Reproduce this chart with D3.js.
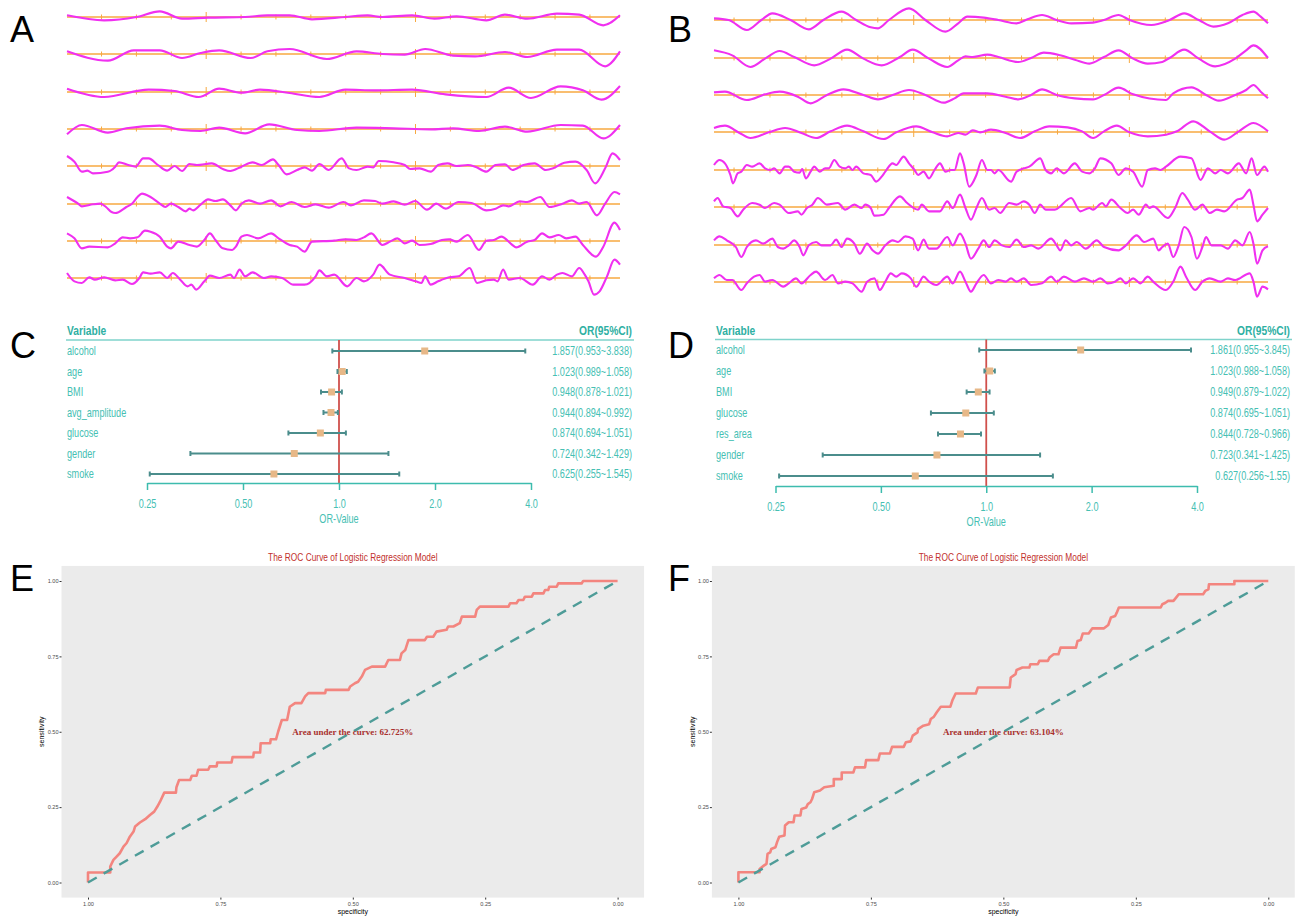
<!DOCTYPE html>
<html>
<head>
<meta charset="utf-8">
<script src="https://cdn.jsdelivr.net/npm/d3@7"></script>
<style>
  body { margin: 0; background: #fff; }
</style>
</head>
<body>
<div id="fig"></div>
<script>
// ---- signal traces: [sample, amplitude] ----
var waveA1 = [[20,5],[120,-10],[207,0],[270,17],[330,-5],[400,-2],[500,0],[560,5],[620,5],[680,-7],[770,0],[830,5],[870,0],[950,5],[1010,-5],[1070,2],[1150,-10],[1200,7],[1260,-5],[1340,10],[1400,7],[1465,-25],[1510,5]];
var waveA2 = [[20,8],[130,-20],[200,11],[270,11],[330,-12],[380,3],[430,11],[515,-12],[560,8],[620,15],[720,-15],[800,8],[870,0],[930,-2],[985,15],[1060,-5],[1120,-7],[1200,6],[1260,-9],[1340,13],[1400,13],[1470,-37],[1510,8]];
var waveA3 = [[20,10],[120,-15],[240,7],[310,3],[375,-15],[430,10],[490,-2],[540,7],[620,-3],[700,-15],[770,7],[850,5],[950,7],[1040,-7],[1150,-15],[1210,13],[1270,-18],[1350,17],[1410,5],[1460,-23],[1510,18]];
var waveA4 = [[20,-16],[60,12],[130,-11],[180,2],[270,10],[330,-3],[380,-6],[430,4],[500,-13],[565,14],[640,-3],[700,-6],[800,4],[900,2],[1000,-1],[1060,2],[1130,-6],[1200,7],[1260,-8],[1350,12],[1410,10],[1465,-28],[1510,12]];
var waveA5 = [[20,30],[40,13],[60,-17],[75,-14],[90,-22],[130,-17],[140,-12],[150,-2],[160,11],[185,3],[205,-2],[225,23],[240,23],[265,3],[290,-14],[310,0],[330,-15],[350,6],[370,3],[410,8],[440,-9],[460,-15],[490,-2],[520,11],[545,3],[575,20],[590,3],[612,-25],[640,-12],[660,-4],[680,-14],[700,6],[725,-12],[760,23],[780,-7],[800,-12],[830,-2],[845,-4],[860,15],[900,11],[930,3],[945,-9],[970,-7],[1000,-17],[1020,3],[1045,8],[1070,0],[1100,3],[1120,-2],[1150,-17],[1175,3],[1200,5],[1220,-12],[1250,3],[1280,8],[1310,-12],[1330,-7],[1360,10],[1390,13],[1420,-12],[1443,-52],[1470,-7],[1490,38],[1510,18]];
var waveA6 = [[20,21],[50,1],[60,-7],[90,-1],[110,1],[125,-9],[140,-24],[150,-27],[180,-9],[195,1],[210,21],[222,31],[245,21],[270,1],[285,-9],[300,1],[320,-9],[340,-22],[350,-14],[360,-19],[380,-2],[400,14],[420,9],[440,14],[460,-4],[475,-19],[490,1],[510,11],[540,1],[570,11],[595,-7],[625,6],[660,-9],[690,-1],[725,-11],[765,6],[785,-4],[820,11],[850,9],[870,1],[900,8],[930,-2],[958,9],[990,-17],[1015,1],[1040,-14],[1075,6],[1110,3],[1150,-19],[1175,-14],[1195,-4],[1210,-7],[1240,8],[1260,6],[1295,21],[1320,-9],[1355,1],[1380,11],[1400,1],[1420,6],[1448,-34],[1470,1],[1495,36],[1510,29]];
var waveA7 = [[20,23],[40,8],[60,-22],[80,-17],[130,-19],[150,-7],[170,11],[190,8],[210,11],[230,31],[245,28],[270,13],[290,-17],[300,-22],[320,-2],[350,-12],[370,-17],[390,3],[405,23],[420,3],[440,-22],[465,-27],[475,-17],[490,13],[505,18],[535,8],[570,23],[590,8],[620,-12],[640,-17],[660,-32],[680,-2],[740,1],[770,5],[800,3],[820,11],[840,23],[870,-12],[890,-2],[910,8],[930,-7],[950,1],[970,-12],[1000,-9],[1030,3],[1050,5],[1070,-2],[1100,18],[1130,-27],[1150,1],[1170,3],[1190,13],[1220,-12],[1230,-19],[1260,-2],[1280,3],[1300,23],[1320,11],[1345,18],[1365,8],[1390,13],[1410,-12],[1445,-47],[1465,-17],[1495,55],[1510,33]];
var waveA8 = [[20,15],[40,-10],[60,-15],[80,2],[95,-5],[120,2],[150,-7],[170,-5],[195,-18],[215,0],[225,17],[245,13],[270,17],[290,0],[305,15],[325,-5],[345,-25],[355,-20],[368,-35],[390,-10],[405,7],[430,0],[460,10],[470,0],[485,25],[500,5],[520,17],[550,0],[570,5],[600,0],[630,-20],[660,-20],[690,5],[700,23],[720,5],[740,10],[775,-25],[800,0],[820,-10],[845,10],[862,40],[890,10],[930,0],[960,-10],[975,-15],[985,5],[1000,-20],[1020,-10],[1050,2],[1075,5],[1105,30],[1125,-15],[1150,-7],[1170,-5],[1180,-10],[1195,25],[1210,-5],[1240,0],[1275,-20],[1300,5],[1320,-5],[1340,10],[1355,15],[1380,5],[1400,30],[1415,10],[1425,-10],[1440,-50],[1455,-40],[1475,5],[1495,55],[1510,40]];

var waveB1 = [[10,5],[50,0],[100,-30],[140,0],[170,20],[220,0],[270,-28],[310,0],[360,25],[400,0],[440,-22],[460,-25],[490,0],[545,35],[590,0],[645,-35],[680,-10],[705,10],[750,7],[790,0],[840,-10],[870,2],[910,15],[950,0],[990,-10],[1050,-8],[1080,0],[1120,15],[1150,0],[1210,-15],[1260,0],[1300,20],[1340,0],[1380,-20],[1420,-10],[1460,15],[1490,25],[1510,10],[1530,-10]];
var waveB2 = [[10,23],[60,8],[110,-27],[150,-2],[190,21],[230,3],[285,-22],[330,-2],[375,25],[420,-2],[470,-22],[520,3],[555,25],[600,-2],[650,-27],[680,-7],[700,5],[720,3],[760,10],[790,3],[845,-12],[880,0],[915,16],[960,8],[1000,-5],[1040,-17],[1080,3],[1120,23],[1160,-2],[1200,-17],[1240,-12],[1260,0],[1300,25],[1340,-2],[1385,-25],[1440,-2],[1470,23],[1490,38],[1530,0]];
var waveB3 = [[10,8],[40,10],[100,-15],[150,2],[190,10],[240,-5],[275,-25],[320,0],[365,17],[420,0],[460,-13],[500,0],[545,15],[590,0],[640,-23],[670,-10],[695,5],[760,5],[810,-5],[845,-13],[880,0],[910,17],[950,0],[1000,-10],[1050,-13],[1080,0],[1120,22],[1160,2],[1250,-15],[1270,5],[1320,23],[1360,0],[1395,-17],[1440,0],[1470,15],[1490,30],[1510,10],[1530,-10]];
var waveB4 = [[10,12],[40,19],[80,-3],[110,-18],[160,-1],[205,12],[250,-3],[290,-18],[330,2],[375,19],[420,2],[475,-21],[510,-1],[565,17],[610,-1],[650,-13],[680,-3],[700,-8],[720,5],[740,-1],[770,7],[810,-3],[850,-18],[890,2],[930,17],[980,14],[1020,2],[1050,-18],[1080,2],[1115,19],[1150,-1],[1200,-13],[1250,-8],[1280,2],[1325,32],[1370,2],[1410,-23],[1450,2],[1490,27],[1530,2]];
var waveB5 = [[10,15],[25,30],[40,20],[55,-15],[62,-40],[75,-10],[85,-5],[100,15],[115,10],[135,20],[150,5],[165,0],[175,5],[190,-10],[205,10],[215,10],[230,-5],[245,-8],[252,3],[262,-25],[275,-5],[285,10],[300,-5],[315,5],[325,5],[340,30],[355,10],[370,5],[380,10],[390,0],[400,10],[420,-10],[440,-15],[455,-35],[470,-20],[480,-5],[500,20],[510,15],[530,40],[545,20],[560,0],[570,-15],[585,-5],[600,-25],[615,0],[630,20],[645,-5],[660,0],[670,0],[685,50],[695,20],[710,-50],[730,-15],[745,30],[760,0],[770,0],[780,-10],[790,0],[825,-35],[840,-5],[860,5],[875,10],[905,35],[920,0],[935,-10],[950,5],[970,-10],[1000,20],[1020,-5],[1040,-10],[1055,5],[1070,35],[1100,20],[1120,-15],[1140,5],[1160,-5],[1185,-50],[1200,0],[1220,5],[1235,0],[1250,10],[1290,40],[1320,35],[1345,-30],[1365,5],[1385,-10],[1400,0],[1420,-10],[1450,20],[1470,-10],[1485,35],[1500,-15],[1520,10],[1530,-5]];
var waveB6 = [[10,17],[20,27],[35,2],[55,-3],[75,-28],[90,-8],[115,12],[135,7],[150,-3],[175,12],[190,7],[215,-18],[240,-13],[250,-23],[265,-3],[280,7],[295,27],[320,7],[350,12],[370,-8],[395,7],[415,-3],[425,7],[440,-3],[450,-26],[475,-23],[490,-3],[520,32],[540,12],[570,-8],[580,7],[600,-13],[630,-13],[650,17],[665,-3],[685,37],[700,-3],[715,-38],[730,-3],[745,27],[765,-8],[780,-3],[795,-18],[820,12],[840,7],[860,17],[875,7],[890,-18],[905,7],[920,-8],[945,-8],[990,27],[1015,-13],[1040,-3],[1050,-8],[1075,12],[1085,2],[1100,22],[1125,-3],[1145,-18],[1160,-8],[1175,-23],[1195,7],[1205,-3],[1215,2],[1255,-33],[1275,-3],[1295,42],[1310,22],[1330,-8],[1350,7],[1370,-18],[1390,-8],[1410,-13],[1445,22],[1460,27],[1480,52],[1490,7],[1500,-43],[1515,-23],[1530,-3]];
var waveB7 = [[10,14],[25,26],[45,14],[70,-6],[85,-36],[100,-6],[125,14],[145,4],[170,19],[185,-6],[200,-11],[215,-1],[230,14],[245,-6],[255,-31],[270,-1],[290,9],[305,-1],[330,-1],[345,16],[360,-6],[375,19],[395,4],[410,-26],[430,4],[445,-16],[460,-26],[480,-1],[500,14],[515,9],[535,26],[555,19],[570,-16],[585,16],[600,-11],[620,-11],[650,24],[665,-1],[685,34],[700,4],[715,-41],[735,-11],[750,14],[765,-6],[780,14],[800,-1],[820,-6],[840,16],[860,-6],[880,-1],[900,-11],[935,19],[950,-1],[960,-16],[975,14],[990,-1],[1005,9],[1030,-11],[1060,14],[1080,-6],[1120,-16],[1140,-1],[1170,29],[1190,9],[1215,19],[1230,-16],[1240,-6],[1255,4],[1270,-36],[1285,-1],[1300,54],[1320,24],[1335,-41],[1350,-6],[1360,24],[1375,-1],[1400,-1],[1420,-11],[1440,14],[1460,-1],[1480,39],[1490,4],[1500,-56],[1515,-16],[1530,-4]];
var waveB8 = [[10,11],[25,21],[45,6],[60,6],[85,-24],[100,-4],[120,16],[135,21],[150,1],[170,6],[200,-14],[215,-4],[235,11],[250,-4],[275,21],[290,31],[315,6],[335,21],[350,-4],[370,1],[390,-4],[415,-29],[430,1],[450,11],[465,-24],[480,1],[495,26],[510,16],[525,26],[550,11],[565,-14],[585,16],[600,1],[620,-9],[650,16],[665,-4],[685,31],[700,1],[715,-29],[730,-4],[750,21],[770,-4],[790,6],[810,1],[825,11],[840,1],[860,11],[880,-9],[910,-4],[935,16],[950,1],[970,16],[1000,1],[1025,11],[1050,1],[1070,11],[1090,-4],[1110,1],[1125,11],[1140,-4],[1160,11],[1180,-4],[1200,16],[1215,1],[1250,-24],[1270,1],[1290,46],[1305,16],[1330,-24],[1350,1],[1370,11],[1400,1],[1420,11],[1440,6],[1480,26],[1490,1],[1500,-44],[1515,-14],[1530,-22]];

// ---- forest plot data ----
var varsC = ["alcohol", "age", "BMI", "avg_amplitude", "glucose", "gender", "smoke"];
var orC   = [1.857, 1.023, 0.948, 0.944, 0.874, 0.724, 0.625];
var loC   = [0.953, 0.989, 0.878, 0.894, 0.694, 0.342, 0.255];
var hiC   = [3.838, 1.058, 1.021, 0.992, 1.051, 1.429, 1.545];

var varsD = ["alcohol", "age", "BMI", "glucose", "res_area", "gender", "smoke"];
var orD   = [1.861, 1.023, 0.949, 0.874, 0.844, 0.723, 0.627];
var loD   = [0.955, 0.988, 0.879, 0.695, 0.728, 0.341, 0.256];
var hiD   = [3.845, 1.058, 1.022, 1.051, 0.966, 1.425, 1.55];

var orTicks = [0.25, 0.5, 1, 2, 4];
var orTickLabels = ["0.25", "0.50", "1.0", "2.0", "4.0"];

// ---- ROC curves: [specificity, sensitivity] ----
var rocE = [[1,0],[1,0.033],[0.958,0.033],[0.958,0.053],[0.952,0.075],[0.946,0.086],[0.94,0.097],[0.933,0.119],[0.927,0.131],[0.921,0.152],[0.914,0.169],[0.911,0.186],[0.902,0.199],[0.892,0.21],[0.883,0.224],[0.875,0.235],[0.869,0.252],[0.864,0.268],[0.856,0.298],[0.834,0.298],[0.833,0.316],[0.828,0.34],[0.807,0.34],[0.804,0.354],[0.795,0.354],[0.792,0.374],[0.773,0.374],[0.77,0.385],[0.757,0.385],[0.756,0.398],[0.729,0.398],[0.727,0.416],[0.688,0.416],[0.687,0.431],[0.675,0.431],[0.674,0.462],[0.656,0.462],[0.655,0.475],[0.645,0.475],[0.641,0.5],[0.634,0.539],[0.624,0.539],[0.619,0.583],[0.609,0.595],[0.597,0.595],[0.59,0.617],[0.584,0.628],[0.552,0.628],[0.551,0.639],[0.508,0.639],[0.505,0.65],[0.496,0.661],[0.49,0.666],[0.483,0.683],[0.477,0.705],[0.464,0.716],[0.439,0.716],[0.433,0.738],[0.411,0.738],[0.408,0.76],[0.401,0.771],[0.395,0.804],[0.364,0.804],[0.36,0.815],[0.348,0.815],[0.342,0.832],[0.323,0.838],[0.32,0.849],[0.31,0.849],[0.298,0.86],[0.294,0.882],[0.269,0.882],[0.266,0.904],[0.26,0.915],[0.206,0.915],[0.203,0.926],[0.191,0.926],[0.187,0.937],[0.178,0.937],[0.175,0.948],[0.162,0.948],[0.159,0.959],[0.14,0.959],[0.137,0.97],[0.131,0.97],[0.129,0.981],[0.115,0.981],[0.112,0.992],[0.068,0.992],[0.065,1],[0,1]];
var rocF = [[1,0],[1,0.034],[0.96,0.034],[0.96,0.045],[0.952,0.056],[0.947,0.062],[0.945,0.095],[0.94,0.1],[0.938,0.111],[0.93,0.117],[0.927,0.134],[0.923,0.152],[0.913,0.156],[0.912,0.189],[0.905,0.2],[0.896,0.2],[0.894,0.222],[0.883,0.222],[0.881,0.244],[0.872,0.249],[0.869,0.26],[0.864,0.266],[0.861,0.277],[0.857,0.299],[0.846,0.305],[0.838,0.316],[0.82,0.321],[0.82,0.343],[0.805,0.343],[0.805,0.365],[0.783,0.365],[0.78,0.382],[0.761,0.382],[0.759,0.406],[0.736,0.406],[0.733,0.428],[0.714,0.428],[0.71,0.45],[0.688,0.45],[0.684,0.465],[0.675,0.468],[0.671,0.487],[0.662,0.498],[0.661,0.509],[0.651,0.52],[0.64,0.525],[0.637,0.542],[0.631,0.55],[0.626,0.564],[0.618,0.583],[0.6,0.583],[0.596,0.605],[0.59,0.627],[0.552,0.627],[0.548,0.647],[0.488,0.647],[0.486,0.68],[0.477,0.691],[0.475,0.705],[0.464,0.713],[0.451,0.713],[0.449,0.724],[0.435,0.724],[0.432,0.735],[0.416,0.735],[0.413,0.746],[0.405,0.757],[0.396,0.757],[0.394,0.768],[0.392,0.779],[0.363,0.779],[0.36,0.801],[0.354,0.804],[0.35,0.826],[0.339,0.826],[0.332,0.843],[0.31,0.843],[0.302,0.854],[0.297,0.879],[0.289,0.884],[0.286,0.895],[0.282,0.912],[0.203,0.912],[0.2,0.923],[0.194,0.928],[0.189,0.934],[0.179,0.934],[0.174,0.945],[0.169,0.956],[0.123,0.956],[0.119,0.967],[0.113,0.972],[0.112,0.989],[0.064,0.989],[0.064,1],[0,1]];
var aucE = "62.725%";
var aucF = "63.104%";
var rocTicks = [0, 0.25, 0.5, 0.75, 1];

var svg = d3.select("#fig").append("svg")
  .attr("width", 1301)
  .attr("height", 918)
  .style("font-family", "'Liberation Sans', Arial, sans-serif");

var teal = "#3dbcae";
var squeeze = 0.76;   // the source used a condensed face

// condensed text: drawn at x=0 inside a translated + x-scaled frame
function narrowText(g, x, y, str, anchor, sq) {
  return g.append("text")
    .attr("transform", "translate(" + x + "," + y + ") scale(" + (sq || squeeze) + ",1)")
    .attr("dy", "0.35em")
    .attr("text-anchor", anchor || "start")
    .text(str);
}

// panel letters
[["A", 10, 42], ["B", 668, 42], ["C", 10, 358], ["D", 668, 358], ["E", 10, 591], ["F", 668, 591]]
  .forEach(function(p) {
    svg.append("text").attr("x", p[1]).attr("y", p[2])
      .attr("font-size", 36).attr("fill", "#000").text(p[0]);
  });

// ---- waveform panels ----
function drawWaves(waves, domain, xRange, baselines, tickPos, majorIdx) {
  var x = d3.scaleLinear().domain(domain).range(xRange);
  var g = svg.append("g");
  waves.forEach(function(w, i) {
    var y = d3.scaleLinear().domain([-3, 3]).range([baselines[i] + 1, baselines[i] - 1]);
    g.append("line")
      .attr("x1", xRange[0]).attr("x2", xRange[1])
      .attr("y1", y(0)).attr("y2", y(0))
      .attr("stroke", "#f7a941").attr("stroke-width", 1.3);
    g.selectAll(null).data(tickPos).enter().append("line")
      .attr("x1", d => x(d)).attr("x2", d => x(d))
      .attr("y1", (d, k) => y(0) - (majorIdx.indexOf(k) >= 0 ? 5 : 2.5))
      .attr("y2", (d, k) => y(0) + (majorIdx.indexOf(k) >= 0 ? 5 : 2.5))
      .attr("stroke", "#f7a941").attr("stroke-width", 1);
    var line = d3.line().x(d => x(d[0])).y(d => y(d[1])).curve(d3.curveMonotoneX);
    g.append("path").datum(w).attr("d", line)
      .attr("fill", "none").attr("stroke", "#f030f0").attr("stroke-width", 2.1);
  });
}

var ticksA = d3.range(15).map(k => 113 + 94 * k);
var ticksB = d3.range(15).map(k => 65 + 98.6 * k);
drawWaves([waveA1, waveA2, waveA3, waveA4, waveA5, waveA6, waveA7, waveA8],
  [20, 1510], [67, 620], [17, 54, 92, 129, 166, 204, 241, 278], ticksA, [3, 9]);
drawWaves([waveB1, waveB2, waveB3, waveB4, waveB5, waveB6, waveB7, waveB8],
  [10, 1530], [714, 1268], [20, 58, 95, 132, 170, 207, 245, 282], ticksB, [5, 11]);

// ---- forest plots ----
function drawForest(o) {
  var x = d3.scaleLog().base(2).domain([0.25, 4]).range(o.xr);
  var y = d3.scalePoint().domain(o.vars).range(o.yr);
  var g = svg.append("g");

  narrowText(g, o.left, o.headY, "Variable")
    .attr("font-size", 13.5).attr("font-weight", "bold").attr("fill", "#2fb0a3");
  narrowText(g, o.right, o.headY, "OR(95%CI)", "end")
    .attr("font-size", 13.5).attr("font-weight", "bold").attr("fill", "#2fb0a3");
  g.append("line").attr("x1", o.left - 1).attr("x2", o.right + 2)
    .attr("y1", o.lineY).attr("y2", o.lineY)
    .attr("stroke", "#7fd3cb").attr("stroke-width", 1.5);

  o.vars.forEach(function(v, i) {
    narrowText(g, o.left, y(v), v).attr("font-size", 12).attr("fill", "#45c0b3");
    narrowText(g, o.right, y(v), o.or[i] + "(" + o.lo[i] + "~" + o.hi[i] + ")", "end")
      .attr("font-size", 12).attr("fill", "#45c0b3");
  });

  // reference line at OR = 1
  g.append("line").attr("x1", x(1)).attr("x2", x(1))
    .attr("y1", o.lineY).attr("y2", o.axisY)
    .attr("stroke", "#d0504c").attr("stroke-width", 1.8);

  o.vars.forEach(function(v, i) {
    var yy = y(v);
    g.append("line").attr("x1", x(o.lo[i])).attr("x2", x(o.hi[i]))
      .attr("y1", yy).attr("y2", yy).attr("stroke", "#4b8d8c").attr("stroke-width", 2);
    [o.lo[i], o.hi[i]].forEach(function(e) {
      g.append("line").attr("x1", x(e)).attr("x2", x(e))
        .attr("y1", yy - 2.5).attr("y2", yy + 2.5)
        .attr("stroke", "#4b8d8c").attr("stroke-width", 2);
    });
    g.append("rect").attr("x", x(o.or[i]) - 3.5).attr("y", yy - 3.5)
      .attr("width", 7).attr("height", 7).attr("fill", "#e7b888");
  });

  var axis = d3.axisBottom(x).tickValues(orTicks)
    .tickFormat((d, i) => orTickLabels[i]).tickSize(7).tickSizeOuter(0);
  var ax = g.append("g").attr("transform", "translate(0," + o.axisY + ")").call(axis);
  ax.select(".domain").attr("stroke", teal).attr("stroke-width", 1.5);
  ax.selectAll(".tick line").attr("stroke", teal).attr("stroke-width", 1.5);
  ax.selectAll(".tick text").attr("fill", "#45c0b3").attr("font-size", 12)
    .attr("font-family", null).attr("y", 16.5)
    .attr("transform", "scale(" + squeeze + ",1)");
  narrowText(g, x(1), o.axisY + 36, "OR-Value", "middle")
    .attr("font-size", 12).attr("fill", "#45c0b3");
}

drawForest({ vars: varsC, or: orC, lo: loC, hi: hiC, xr: [147, 531], yr: [351, 474],
  left: 67, right: 632, headY: 330, lineY: 340, axisY: 483 });
drawForest({ vars: varsD, or: orD, lo: loD, hi: hiD, xr: [775.5, 1197], yr: [350, 476],
  left: 716, right: 1290, headY: 330, lineY: 339.5, axisY: 486 });

// ---- ROC panels ----
function drawRoc(o) {
  var x = d3.scaleLinear().domain([1, 0]).range(o.xr);
  var y = d3.scaleLinear().domain([0, 1]).range([882.5, 581]);
  var g = svg.append("g");
  var padX = (o.xr[1] - o.xr[0]) * 0.05, padY = (882.5 - 581) * 0.05;

  g.append("rect").attr("x", o.xr[0] - padX).attr("y", 581 - padY)
    .attr("width", o.xr[1] - o.xr[0] + 2 * padX).attr("height", 882.5 - 581 + 2 * padY)
    .attr("fill", "#ebebeb");

  narrowText(g, (o.xr[0] + o.xr[1]) / 2, 557, "The ROC Curve of Logistic Regression Model", "middle", 0.82)
    .attr("font-size", 10.2).attr("fill", "#c2302c");

  var xAxis = d3.axisBottom(x).tickValues(rocTicks).tickFormat(d3.format(".2f"))
    .tickSize(2).tickSizeOuter(0);
  var yAxis = d3.axisLeft(y).tickValues(rocTicks).tickFormat(d3.format(".2f"))
    .tickSize(2).tickSizeOuter(0);
  var gx = g.append("g").attr("transform", "translate(0," + (882.5 + padY) + ")").call(xAxis);
  var gy = g.append("g").attr("transform", "translate(" + (o.xr[0] - padX) + ",0)").call(yAxis);
  [gx, gy].forEach(function(a) {
    a.select(".domain").remove();
    a.selectAll(".tick line").attr("stroke", "#333");
    a.selectAll(".tick text").attr("fill", "#4d4d4d").attr("font-size", 5.6);
  });
  gx.selectAll(".tick text").attr("y", 4);
  gy.selectAll(".tick text").attr("x", -3);

  g.append("text").attr("x", (o.xr[0] + o.xr[1]) / 2).attr("y", 914)
    .attr("text-anchor", "middle").attr("font-size", 7).attr("fill", "#000").text("specificity");
  g.append("text")
    .attr("transform", "translate(" + o.ylabX + "," + y(0.5) + ") rotate(-90)")
    .attr("text-anchor", "middle").attr("font-size", 7).attr("fill", "#000").text("sensitivity");

  var line = d3.line().x(d => x(d[0])).y(d => y(d[1]));
  g.append("path").datum(o.roc).attr("d", line)
    .attr("fill", "none").attr("stroke", "#f3857f").attr("stroke-width", 2.6)
    .attr("stroke-linejoin", "round");
  g.append("path").datum([[1, 0], [0, 1]]).attr("d", line)
    .attr("fill", "none").attr("stroke", "#4e9c98").attr("stroke-width", 2.4)
    .attr("stroke-dasharray", "10,8");

  g.append("text").attr("x", x(0.5)).attr("y", y(0.5)).attr("dy", "0.35em")
    .attr("text-anchor", "middle")
    .attr("font-family", "'Liberation Serif', 'Times New Roman', serif")
    .attr("font-weight", "bold").attr("font-size", 9).attr("fill", "#a8302e")
    .text("Area under the curve: " + o.auc);
}

drawRoc({ roc: rocE, xr: [88, 617.6], ylabX: 44, auc: aucE });
drawRoc({ roc: rocF, xr: [738.4, 1268.3], ylabX: 695, auc: aucF });
</script>
</body>
</html>
